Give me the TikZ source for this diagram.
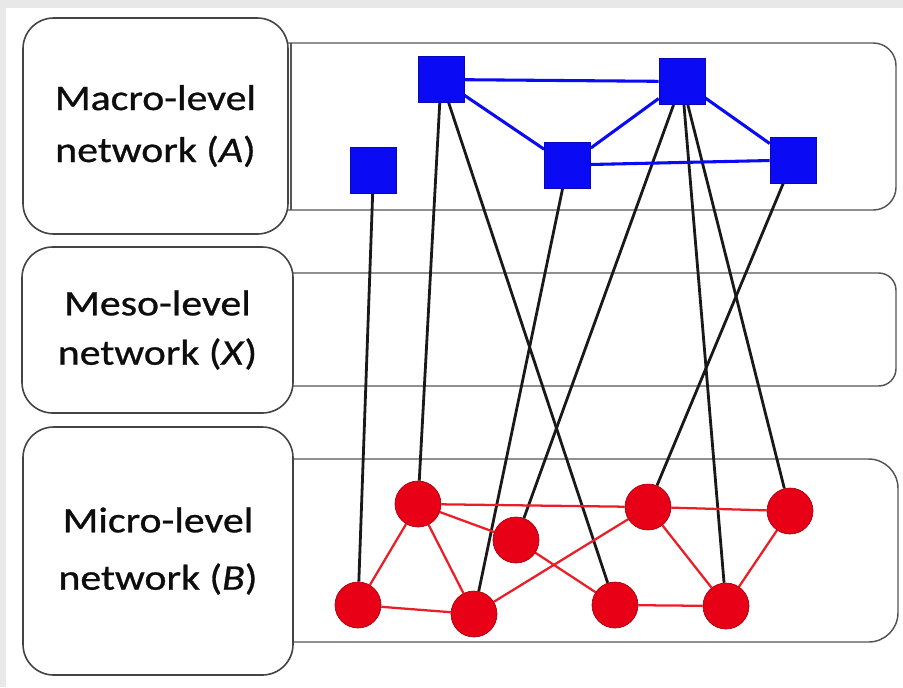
\documentclass[tikz,border=0pt]{standalone}
\usepackage{fontspec}
\newfontfamily\lblfont[FakeStretch=1.16, FakeBold=0.8]{Carlito}
\pgfdeclarelayer{panels}
\pgfdeclarelayer{links}
\pgfsetlayers{panels,links,main}
\definecolor{nodeblue}{RGB}{10,10,245}
\definecolor{nodered}{RGB}{232,0,22}
\definecolor{linkred}{RGB}{235,30,40}
\definecolor{frame}{RGB}{85,85,85}
\tikzset{
  panel/.style={draw=frame, line width=1.1pt},
  lblbox/.style={draw=frame!80!black, line width=1.2pt, fill=white, rounded corners=23pt,
    inner sep=0pt, align=center, text=black!95,
    font=\lblfont\fontsize{27}{39}\selectfont},
  sq/.style={rectangle, minimum size=34.5pt, inner sep=0pt, fill=nodeblue, draw=nodeblue!75!black, line width=0.5pt},
  dot/.style={circle, minimum size=34.5pt, inner sep=0pt, fill=nodered, draw=nodered!70!black, line width=0.5pt},
  tie/.style={draw=black!90, line width=2.1pt},
  bluelink/.style={draw=nodeblue, line width=2.3pt},
  redlink/.style={draw=linkred, line width=1.7pt},
}
\begin{document}
\begin{tikzpicture}[x=0.75pt, y=-0.75pt]
\useasboundingbox (0,0) rectangle (903,687);

% level panels and their labels
\begin{pgfonlayer}{panels}
  \fill[white] (0,0) rectangle (903,687);
  \fill[black!9] (0,0) rectangle (903,8);
  \fill[black!9] (0,0) rectangle (6,687);
  \draw[panel, rounded corners=17pt] (200,43) rectangle (896,210);
  \draw[panel] (291,43) -- (291,210);
  \draw[panel, rounded corners=13pt] (200,273) rectangle (896,386);
  \draw[panel, rounded corners=22pt] (200,459) rectangle (898,642);
  \node[lblbox, minimum width=198.75pt, minimum height=162pt] (macro) at (155.5,126) {Macro-level\\network (\textit{A})};
  \node[lblbox, minimum width=203.25pt, minimum height=124.5pt] (meso) at (157.5,330) {Meso-level\\[-2pt]network (\textit{X})};
  \node[lblbox, minimum width=202.5pt, minimum height=186pt] (micro) at (158,551) {Micro-level\\[4pt]network (\textit{B})};
\end{pgfonlayer}

% macro-level actors
\node[sq] (s1) at (373.5,170) {};
\node[sq] (s2) at (441,79.5) {};
\node[sq] (s3) at (567.5,165) {};
\node[sq] (s4) at (682,81.5) {};
\node[sq] (s5) at (793,160) {};

% micro-level actors
\node[dot] (c1) at (358,605) {};
\node[dot] (c2) at (418,504) {};
\node[dot] (c3) at (516,540) {};
\node[dot] (c4) at (474,614) {};
\node[dot] (c5) at (615,605) {};
\node[dot] (c6) at (726,606) {};
\node[dot] (c7) at (648,507) {};
\node[dot] (c8) at (790,511) {};

\begin{pgfonlayer}{links}
  % affiliation ties between levels
  \draw[tie] (s1) -- (c1);
  \draw[tie] (s2) -- (c2);
  \draw[tie] (s2) -- (c5);
  \draw[tie] (s3) -- (c4);
  \draw[tie] (s4) -- (c3);
  \draw[tie] (s4) -- (c6);
  \draw[tie] (s4) -- (c8);
  \draw[tie] (s5) -- (c7);
  % macro-level ties
  \draw[bluelink] (s2) -- (s4);
  \draw[bluelink] (s2) -- (s3);
  \draw[bluelink] (s3) -- (s4);
  \draw[bluelink] (s4) -- (s5);
  \draw[bluelink] (s3) -- (s5);
  % micro-level ties
  \draw[redlink] (c1) -- (c2);
  \draw[redlink] (c1) -- (c4);
  \draw[redlink] (c2) -- (c4);
  \draw[redlink] (c2) -- (c3);
  \draw[redlink] (c2) -- (c7);
  \draw[redlink] (c3) -- (c5);
  \draw[redlink] (c4) -- (c7);
  \draw[redlink] (c7) -- (c8);
  \draw[redlink] (c7) -- (c6);
  \draw[redlink] (c8) -- (c6);
  \draw[redlink] (c5) -- (c6);
\end{pgfonlayer}
\end{tikzpicture}
\end{document}
